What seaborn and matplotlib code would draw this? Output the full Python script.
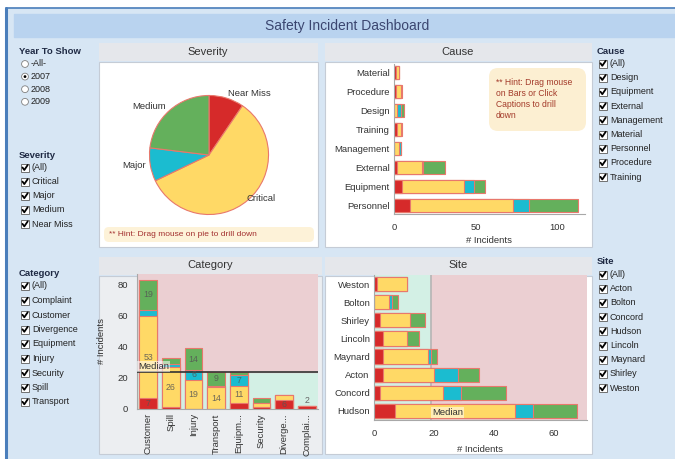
import numpy as np
import matplotlib
matplotlib.use("Agg")
import matplotlib.pyplot as plt
import seaborn as sns
from matplotlib.patches import Rectangle, Circle, FancyBboxPatch

W, H = 675, 459

# ---- data ----
severity_levels = ["Near Miss", "Critical", "Major", "Medium"]
severity_colors = ["#d62a2a", "#ffd966", "#1bbcd0", "#64b05c"]
edge_color = "#e8786c"

cause_names = ["Material", "Procedure", "Design", "Training", "Management",
               "External", "Equipment", "Personnel"]
cause_near_miss = [1, 1, 0, 2, 0, 2, 5, 10]
cause_critical = [2, 3, 2, 2, 3, 15, 38, 63]
cause_major = [0, 0, 2, 0, 1, 1, 6, 10]
cause_medium = [0, 1, 2, 1, 0, 13, 7, 30]

category_names = ["Customer", "Spill", "Injury", "Transport", "Equipm...",
                  "Security", "Diverge...", "Complai..."]
category_near_miss = [7, 1, 0, 0, 4, 1, 6, 2]
category_critical = [53, 26, 19, 14, 11, 3, 3, 0]
category_major = [4, 2, 6, 1, 7, 0, 0, 0]
category_medium = [19, 4, 14, 9, 2, 3, 0, 0]

site_names = ["Weston", "Bolton", "Shirley", "Lincoln", "Maynard", "Acton",
              "Concord", "Hudson"]
site_near_miss = [1, 0, 2, 3, 3, 3, 2, 7]
site_critical = [10, 5, 10, 8, 15, 17, 21, 40]
site_major = [0, 1, 0, 0, 1, 8, 6, 6]
site_medium = [0, 2, 5, 4, 2, 7, 15, 15]

severity_counts = [sum(category_near_miss), sum(category_critical),
                   sum(category_major), sum(category_medium)]

year_options = ["-All-", "2007", "2008", "2009"]
severity_filter = ["(All)", "Critical", "Major", "Medium", "Near Miss"]
category_filter = ["(All)", "Complaint", "Customer", "Divergence", "Equipment",
                   "Injury", "Security", "Spill", "Transport"]
cause_filter = ["(All)", "Design", "Equipment", "External", "Management",
                "Material", "Personnel", "Procedure", "Training"]
site_filter = ["(All)", "Acton", "Bolton", "Concord", "Hudson", "Lincoln",
               "Maynard", "Shirley", "Weston"]

sns.set_style("white")
plt.rcParams["font.family"] = ["Liberation Sans", "DejaVu Sans"]

fig = plt.figure(figsize=(W / 100, H / 100), dpi=100)


def px_axes(x0, y0, x1, y1, **kw):
    return fig.add_axes([x0 / W, 1 - y1 / H, (x1 - x0) / W, (y1 - y0) / H], **kw)


# ---- background / frame ----
bg = px_axes(0, 0, W, H, zorder=-10)
bg.set_xlim(0, W)
bg.set_ylim(H, 0)
bg.axis("off")
bg.add_patch(Rectangle((0, 0), W, H, color="white"))
bg.add_patch(Rectangle((6, 8), W - 6, H - 8, color="#d7e6f4"))
bg.plot([5.5, 5.5], [8, H], color="#4a7ebb", lw=2.2)
bg.plot([5.5, W], [8, 8], color="#4a7ebb", lw=1.2)
bg.add_patch(Rectangle((14, 14), W - 14, 23, color="#b9d3ef"))
bg.text(347, 26, "Safety Incident Dashboard", ha="center", va="center",
        fontsize=10, color="#3b4670")

panel_edge = "#c5ccd6"
header_color = "#e5e7eb"
for (x0, y0, x1, y1, body) in [(99, 43, 318, 247, "white"),
                               (325, 43, 592, 247, "white"),
                               (99, 257, 322, 454, "#eceef1"),
                               (325, 257, 592, 454, "white")]:
    bg.add_patch(Rectangle((x0, y0), x1 - x0, 18, fc=header_color, ec="none"))
    bg.add_patch(Rectangle((x0, y0 + 19), x1 - x0, y1 - y0 - 19, fc=body,
                           ec=panel_edge, lw=0.8))

headers = [("Severity", 208, 52), ("Cause", 458, 52),
           ("Category", 210, 265), ("Site", 458, 265)]
for label, hx, hy in headers:
    bg.text(hx, hy, label, ha="center", va="center", fontsize=8, color="#333333")

# ---- filter widgets ----
text_col = "#222222"


def checkbox_list(x, y, title, items, step):
    bg.text(x - 2, y - 12.5, title, fontsize=6.8, fontweight="bold",
            color="#1f2a44", va="center")
    for i, item in enumerate(items):
        yy = y + i * step
        bg.add_patch(Rectangle((x, yy - 4), 8, 8, fc="white", ec="#707070", lw=0.7))
        bg.plot([x + 1.5, x + 3.3, x + 6.7], [yy - 0.2, yy + 2.3, yy - 2.7],
                color="black", lw=1.3, solid_capstyle="round")
        bg.text(x + 11, yy, item, fontsize=6.5, color=text_col, va="center")


bg.text(19, 51, "Year To Show", fontsize=6.8, fontweight="bold", color="#1f2a44",
        va="center")
for i, item in enumerate(year_options):
    yy = 64 + i * 12.6
    bg.add_patch(Circle((25, yy), 3.4, fc="white", ec="#808080", lw=0.6))
    if item == "2007":
        bg.add_patch(Circle((25, yy), 1.4, fc="black", ec="none"))
    bg.text(31, yy, item, fontsize=6.5, color=text_col, va="center")

checkbox_list(21, 167.7, "Severity", severity_filter, 14.1)
checkbox_list(21, 286, "Category", category_filter, 14.5)
checkbox_list(599, 63.5, "Cause", cause_filter, 14.2)
checkbox_list(599, 274.5, "Site", site_filter, 14.2)


# ---- helpers for stacked bars ----
def stacked_bars(ax, names, parts, horizontal, width):
    cum = np.cumsum(np.array(parts), axis=0)
    for level in range(len(parts) - 1, -1, -1):
        kw = dict(color=severity_colors[level], edgecolor=edge_color, linewidth=0.8,
                  saturation=1, width=width, errorbar=None, ax=ax, zorder=2)
        if horizontal:
            sns.barplot(x=cum[level], y=names, orient="h", **kw)
        else:
            sns.barplot(x=names, y=cum[level], **kw)
    return cum


def style_axes(ax):
    for s in ("top", "right"):
        ax.spines[s].set_visible(False)
    for s in ("left", "bottom"):
        ax.spines[s].set_color("#a8a8a8")
        ax.spines[s].set_linewidth(0.8)
    ax.tick_params(labelsize=6.8, labelcolor="#333333", color="#a8a8a8",
                   length=3, width=0.6)


# ---- Severity pie ----
ax_pie = px_axes(134.6, 80.6, 283.4, 229.4)
wedges, texts = ax_pie.pie(severity_counts, labels=severity_levels,
                           colors=severity_colors, startangle=90, counterclock=False,
                           labeldistance=1.08,
                           wedgeprops=dict(edgecolor=edge_color, linewidth=0.8),
                           textprops=dict(fontsize=6.8, color="#333333"))
label_radius = {"Critical": 0.97}
for w, t in zip(wedges, texts):
    r = label_radius.get(t.get_text())
    if r is not None:
        ang = np.deg2rad((w.theta1 + w.theta2) / 2)
        t.set_position((r * np.cos(ang), r * np.sin(ang)))
ax_pie.set_aspect("equal")

bg.add_patch(FancyBboxPatch((104, 227), 210, 15, boxstyle="round,pad=0,rounding_size=5",
                            fc="#fdf2d8", ec="none"))
bg.text(109, 234.5, "** Hint: Drag mouse on pie to drill down", fontsize=6,
        color="#a33030", va="center")

# ---- Cause chart ----
bg.add_patch(FancyBboxPatch((489, 68), 97, 63, boxstyle="round,pad=0,rounding_size=9",
                            fc="#fcefd2", ec="none"))
bg.text(496, 78, "** Hint: Drag mouse\non Bars or Click\nCaptions to drill\ndown",
        fontsize=6.2, color="#a33a2a", va="top", linespacing=1.3)

ax_cause = px_axes(394, 64, 585, 214)
ax_cause.set_facecolor("none")
stacked_bars(ax_cause, cause_names,
             [cause_near_miss, cause_critical, cause_major, cause_medium], True, 0.7)
style_axes(ax_cause)
ax_cause.set_xlim(0, 117)
ax_cause.set_ylim(len(cause_names) - 0.55, -0.45)
ax_cause.set_xticks([0, 50, 100])
ax_cause.tick_params(axis="y", length=0, pad=3)
ax_cause.set_xlabel("# Incidents", fontsize=6.8, color="#333333", labelpad=3)
ax_cause.set_ylabel("")

# ---- Category chart ----
ax_cat = px_axes(137, 274, 318, 409)
cat_total = np.sum([category_near_miss, category_critical, category_major,
                    category_medium], axis=0)
cat_median = np.median(cat_total)
ax_cat.axhspan(0, cat_median, color="#d3f0e5", zorder=0)
ax_cat.axhspan(cat_median, 100, color="#ebcfd2", zorder=0)
cum = stacked_bars(ax_cat, category_names,
                   [category_near_miss, category_critical, category_major,
                    category_medium], False, 0.78)
style_axes(ax_cat)
ax_cat.set_ylim(0, 87)
ax_cat.set_xlim(-0.5, len(category_names) - 0.5)
ax_cat.set_yticks([0, 20, 40, 60, 80])
ax_cat.set_yticks(np.arange(10, 90, 20), minor=True)
ax_cat.set_xticks(np.arange(len(category_names)) + 0.5, minor=True)
ax_cat.tick_params(axis="x", which="major", length=0, rotation=90, pad=3)
ax_cat.tick_params(axis="both", which="minor", length=3, color="#a8a8a8", width=0.6)
ax_cat.set_xlabel("")
ax_cat.set_ylabel("# Incidents", fontsize=6.8, color="#333333")
ax_cat.yaxis.set_label_coords(-0.17, 0.5)
ax_cat.axhline(cat_median, color="#333333", lw=1.2, zorder=4)
ax_cat.text(-0.45, cat_median + 0.6, "Median", fontsize=6.8, color="#333333",
            va="bottom", ha="left", zorder=5,
            bbox=dict(boxstyle="square,pad=0.1", fc="white", ec="none", alpha=0.55))

parts = np.array([category_near_miss, category_critical, category_major, category_medium])
for i in range(len(category_names)):
    base = 0
    for level in range(len(parts)):
        v = parts[level, i]
        if v >= 6:
            ax_cat.text(i, base + v / 2, str(v), ha="center", va="center",
                        fontsize=6.3, color="#555555", alpha=0.85, zorder=5)
        base += v
    if 0 < cat_total[i] < 3:
        ax_cat.text(i, cat_total[i] + 0.8, str(cat_total[i]), ha="center",
                    va="bottom", fontsize=6.3, color="#666666", zorder=5)

# ---- Site chart ----
ax_site = px_axes(374, 275, 587, 420)
site_total = np.sum([site_near_miss, site_critical, site_major, site_medium], axis=0)
site_median = np.median(site_total)
ax_site.axvspan(0, site_median, color="#d3f0e5", zorder=0)
ax_site.axvspan(site_median, 100, color="#ebcfd2", zorder=0)
stacked_bars(ax_site, site_names,
             [site_near_miss, site_critical, site_major, site_medium], True, 0.78)
style_axes(ax_site)
ax_site.set_xlim(0, 71.2)
ax_site.set_ylim(len(site_names) - 0.5, -0.5)
ax_site.set_xticks([0, 20, 40, 60])
ax_site.set_xticks([10, 30, 50, 70], minor=True)
ax_site.tick_params(axis="x", which="minor", length=3, color="#a8a8a8", width=0.6)
ax_site.tick_params(axis="y", length=0, pad=3)
ax_site.set_xlabel("# Incidents", fontsize=6.8, color="#333333", labelpad=5)
ax_site.set_ylabel("")
ax_site.axvline(site_median, color="#b5b5b5", lw=1.2, zorder=1)
ax_site.text(site_median + 0.4, len(site_names) - 1 + 0.1, "Median", fontsize=6.8,
             color="#333333", va="center", ha="left", zorder=5,
             bbox=dict(boxstyle="square,pad=0.1", fc="#fff3cc", ec="none", alpha=0.8))

fig.savefig("out.png", dpi=100)
